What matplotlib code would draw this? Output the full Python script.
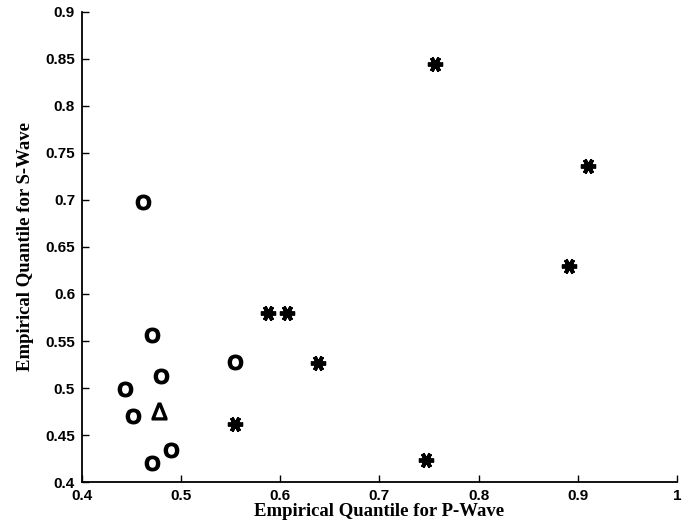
import matplotlib
matplotlib.use("Agg")
import matplotlib.pyplot as plt

plt.rcParams['mathtext.fontset'] = 'custom'
plt.rcParams['mathtext.bf'] = 'Liberation Sans:bold'
plt.rcParams['mathtext.rm'] = 'Liberation Sans'

# grupo "O"
circ_x = [0.4616, 0.4707, 0.4434, 0.4515, 0.480, 0.4707, 0.490, 0.5545]
circ_y = [0.698, 0.556, 0.499, 0.470, 0.513, 0.420, 0.434, 0.528]

# grupo "*"
star_x = [0.7566, 0.910, 0.891, 0.588, 0.607, 0.638, 0.5545, 0.747]
star_y = [0.8447, 0.736, 0.630, 0.580, 0.580, 0.527, 0.462, 0.4234]

# grupo triangulo
tri_x = [0.478]
tri_y = [0.4755]

x_ticks = [0.4, 0.5, 0.6, 0.7, 0.8, 0.9, 1]
y_ticks = [0.4, 0.45, 0.5, 0.55, 0.6, 0.65, 0.7, 0.75, 0.8, 0.85, 0.9]

fig = plt.figure(figsize=(6.92, 5.28), dpi=100)
ax = fig.add_axes([0.1185, 0.087, 0.8595, 0.8905])

ax.plot(circ_x, circ_y, linestyle='none', marker=r'$\mathbf{O}$',
        markersize=10.5, color='black')
ax.plot(star_x, star_y, linestyle='none', marker=(6, 2, 30),
        markersize=11, markeredgewidth=2.8, color='black')
ax.plot(tri_x, tri_y, linestyle='none', marker=r'$\Delta$',
        markersize=12, color='black')

ax.set_xlim(0.4, 1)
ax.set_ylim(0.4, 0.9)
ax.set_xticks(x_ticks)
ax.set_yticks(y_ticks)
ax.set_xticklabels([f"{v:g}" for v in x_ticks])
ax.set_yticklabels([f"{v:g}" for v in y_ticks])

for lbl in ax.get_xticklabels() + ax.get_yticklabels():
    lbl.set_fontfamily('Liberation Sans')
    lbl.set_fontweight('bold')
    lbl.set_fontsize(11)

ax.tick_params(direction='in', length=5, width=1, pad=5)
ax.spines['top'].set_visible(False)
ax.spines['right'].set_visible(False)
ax.spines['left'].set_linewidth(1.3)
ax.spines['bottom'].set_linewidth(1.3)

ax.set_xlabel("Empirical Quantile for P-Wave", fontfamily='Liberation Serif',
              fontweight='bold', fontsize=13.5, labelpad=0)
ax.set_ylabel("Empirical Quantile for S-Wave", fontfamily='Liberation Serif',
              fontweight='bold', fontsize=13.5, labelpad=8)

fig.savefig("out.png", dpi=100)
